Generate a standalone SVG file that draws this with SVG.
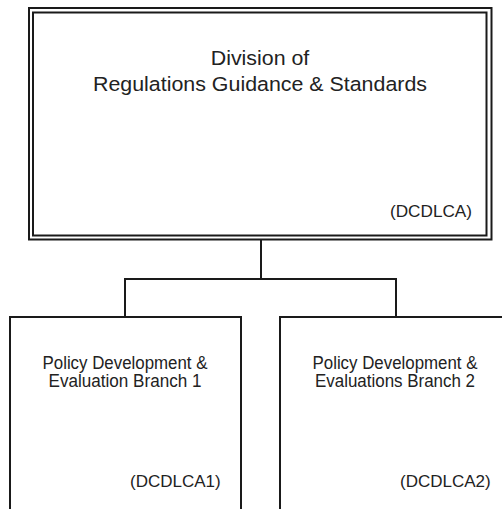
<svg xmlns="http://www.w3.org/2000/svg" width="502" height="509" viewBox="0 0 502 509">
<style>
.box{fill:#fff;stroke:#1a1a1a;stroke-width:2}
.conn{fill:none;stroke:#1a1a1a;stroke-width:2}
text{font-family:"Liberation Sans",Arial,sans-serif;fill:#222}
.big{font-size:20.5px}
.mid{font-size:17.5px}
.code{font-size:17px}
</style>
<rect width="502" height="509" fill="#fff"/>
<g id="connectors">
<path class="conn" d="M261,240 V279 M125,279 H396 M125,278 V317 M396,278 V317"/>
</g>
<g id="node-top">
<rect class="box" x="29" y="8" width="462.5" height="231.5"/>
<rect class="box" x="33" y="12.5" width="453.5" height="223" fill="none"/>
<text class="big" x="260" y="65" text-anchor="middle" textLength="98.5" lengthAdjust="spacingAndGlyphs">Division of</text>
<text class="big" x="260" y="90.7" text-anchor="middle" textLength="334" lengthAdjust="spacingAndGlyphs">Regulations Guidance &amp; Standards</text>
<text class="code" x="390" y="216.7" textLength="82" lengthAdjust="spacingAndGlyphs">(DCDLCA)</text>
</g>
<g id="node-branch1">
<rect class="box" x="10" y="317" width="231" height="194"/>
<text class="mid" x="125" y="368.5" text-anchor="middle" textLength="165" lengthAdjust="spacingAndGlyphs">Policy Development &amp;</text>
<text class="mid" x="125" y="387" text-anchor="middle" textLength="153" lengthAdjust="spacingAndGlyphs">Evaluation Branch 1</text>
<text class="code" x="130" y="486.7" textLength="90.7" lengthAdjust="spacingAndGlyphs">(DCDLCA1)</text>
</g>
<g id="node-branch2">
<rect class="box" x="280" y="317" width="231" height="194"/>
<text class="mid" x="395" y="368.5" text-anchor="middle" textLength="165" lengthAdjust="spacingAndGlyphs">Policy Development &amp;</text>
<text class="mid" x="395" y="387" text-anchor="middle" textLength="160" lengthAdjust="spacingAndGlyphs">Evaluations Branch 2</text>
<text class="code" x="400" y="486.7" textLength="90.7" lengthAdjust="spacingAndGlyphs">(DCDLCA2)</text>
</g>
</svg>
